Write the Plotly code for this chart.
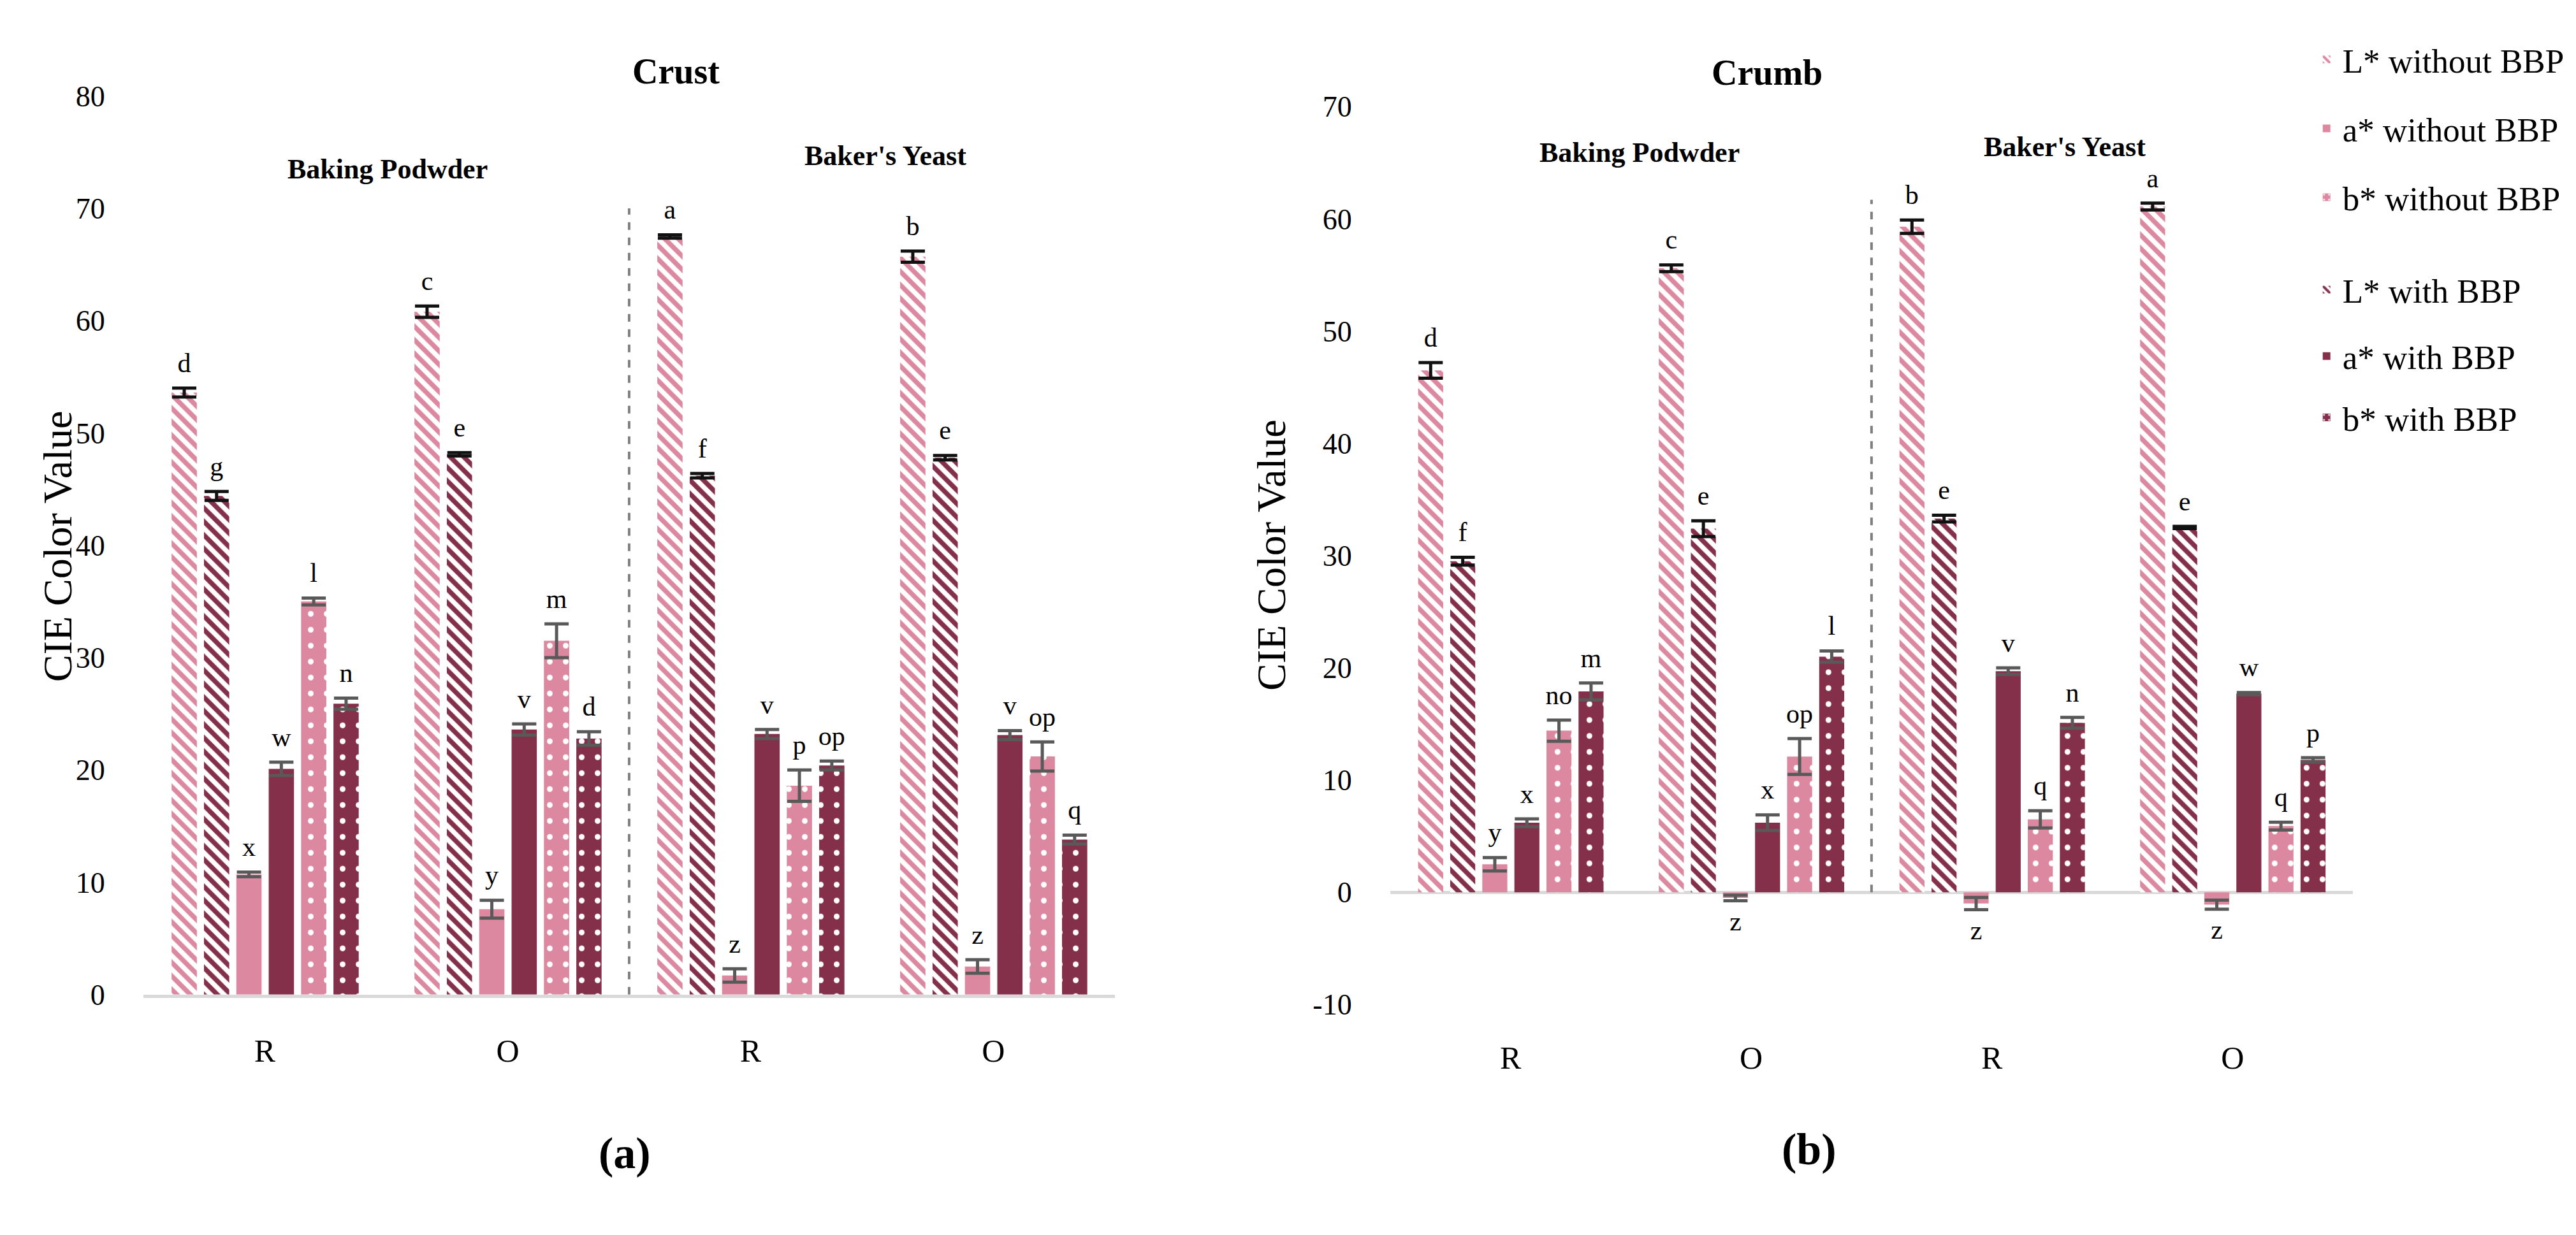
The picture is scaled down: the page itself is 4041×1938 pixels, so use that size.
import plotly.graph_objects as go

# categories (R / O for each leavening agent)
positions = [0, 1, 2, 3]
cat_labels = ["R", "O", "R", "O"]
groups = ["Baking Podwder", "Baker's Yeast"]

# bar order inside each category
series = ["L* without BBP", "L* with BBP", "a* without BBP",
          "a* with BBP", "b* without BBP", "b* with BBP"]

# Crust values, errors, letters
crust_vals = [
    [53.6, 60.8, 67.5, 65.7],
    [44.4, 48.1, 46.2, 47.8],
    [10.7, 7.6, 1.7, 2.5],
    [20.1, 23.6, 23.2, 23.1],
    [35.0, 31.5, 18.6, 21.2],
    [25.9, 22.8, 20.4, 13.8],
]
crust_err = [
    [0.4, 0.5, 0.15, 0.5],
    [0.4, 0.15, 0.2, 0.2],
    [0.2, 0.8, 0.6, 0.6],
    [0.6, 0.5, 0.4, 0.4],
    [0.3, 1.5, 1.4, 1.3],
    [0.5, 0.6, 0.4, 0.4],
]
crust_letters = [
    ["d", "c", "a", "b"],
    ["g", "e", "f", "e"],
    ["x", "y", "z", "z"],
    ["w", "v", "v", "v"],
    ["l", "m", "p", "op"],
    ["n", "d", "op", "q"],
]

# Crumb values, errors, letters
crumb_vals = [
    [46.5, 55.6, 59.3, 61.1],
    [29.5, 32.4, 33.3, 32.5],
    [2.5, -0.5, -1.0, -1.1],
    [6.2, 6.2, 19.7, 17.7],
    [14.4, 12.1, 6.5, 5.9],
    [17.9, 21.0, 15.1, 11.8],
]
crumb_err = [
    [0.7, 0.3, 0.6, 0.3],
    [0.35, 0.7, 0.3, 0.1],
    [0.6, 0.25, 0.55, 0.4],
    [0.35, 0.7, 0.3, 0.1],
    [0.95, 1.6, 0.77, 0.35],
    [0.75, 0.5, 0.48, 0.2],
]
crumb_letters = [
    ["d", "c", "b", "a"],
    ["f", "e", "e", "e"],
    ["y", "z", "z", "z"],
    ["x", "x", "v", "w"],
    ["no", "op", "q", "q"],
    ["m", "l", "n", "p"],
]

crust_yticks = [0, 10, 20, 30, 40, 50, 60, 70, 80]
crumb_yticks = [-10, 0, 10, 20, 30, 40, 50, 60, 70]

PINK = "#DB88A0"
WINE = "#84304B"
FONT = "Liberation Serif"

# styling per series (same order as `series`)
styles = [
    dict(color=PINK, shape="\\", fg=PINK, bg="white", size=15, sol=0.5, err="#111111"),
    dict(color=WINE, shape="\\", fg=WINE, bg="white", size=15, sol=0.5, err="#111111"),
    dict(color=PINK, shape="", fg=PINK, bg=PINK, size=10, sol=0.5, err="#595959"),
    dict(color=WINE, shape="", fg=WINE, bg=WINE, size=10, sol=0.5, err="#595959"),
    dict(color=PINK, shape=".", fg="white", bg=PINK, size=25, sol=0.1, err="#595959"),
    dict(color=WINE, shape=".", fg="white", bg=WINE, size=25, sol=0.1, err="#595959"),
]
legend_keys = ["legend", "legend4", "legend2", "legend5", "legend3", "legend6"]

BAR_W = 0.104
STEP = 0.1333
START = -0.384

fig = go.Figure()


def add_panel(vals, errs, letters, xa, ya, show):
    for i, name in enumerate(series):
        st = styles[i]
        off = START + i * STEP
        fig.add_trace(go.Bar(
            x=positions, y=vals[i], name=name,
            offset=off, width=BAR_W,
            marker=dict(color=st["color"], line_width=0,
                        pattern=dict(shape=st["shape"], fgcolor=st["fg"], bgcolor=st["bg"],
                                     size=st["size"], solidity=st["sol"], fillmode="replace")),
            error_y=dict(type="data", array=errs[i], color=st["err"], thickness=5, width=19),
            xaxis=xa, yaxis=ya, showlegend=show, legend=legend_keys[i],
        ))
        ty = [v + e if v >= 0 else v - e for v, e in zip(vals[i], errs[i])]
        tp = ["top center" if v >= 0 else "bottom center" for v in vals[i]]
        fig.add_trace(go.Scatter(
            x=[p + off + BAR_W / 2 for p in positions], y=ty, text=letters[i],
            mode="markers+text", textposition=tp,
            marker=dict(size=22, opacity=0),
            textfont=dict(family=FONT, size=42, color="black"),
            xaxis=xa, yaxis=ya, showlegend=False, hoverinfo="skip",
        ))


add_panel(crust_vals, crust_err, crust_letters, "x", "y", False)
add_panel(crumb_vals, crumb_err, crumb_letters, "x2", "y2", True)

xcommon = dict(tickvals=positions, ticktext=cat_labels, range=[-0.5, 3.5],
               showgrid=False, zeroline=False, ticks="outside", ticklen=40,
               tickcolor="rgba(0,0,0,0)", tickfont=dict(family=FONT, size=50, color="black"))
ycommon = dict(showgrid=False, ticks="outside", ticklen=50, tickcolor="rgba(0,0,0,0)",
               tickfont=dict(family=FONT, size=46, color="black"))

fig.update_layout(
    width=4041, height=1938,
    margin=dict(l=0, r=0, t=0, b=0),
    paper_bgcolor="white", plot_bgcolor="white",
    font=dict(family=FONT, color="black"),
    barmode="overlay",
    xaxis=dict(domain=[0.0537, 0.4308], showline=True, linecolor="#D9D9D9", linewidth=5,
               **xcommon),
    yaxis=dict(domain=[0.1904, 0.9376], range=[0, 80], tickvals=crust_yticks,
               ticktext=[str(t) for t in crust_yticks], zeroline=False, **ycommon),
    xaxis2=dict(domain=[0.5377, 0.9114], anchor="y2", showline=False, **xcommon),
    yaxis2=dict(domain=[0.1821, 0.9288], anchor="x2", range=[-10, 70], tickvals=crumb_yticks,
                ticktext=[str(t) for t in crumb_yticks], zeroline=True,
                zerolinecolor="#D9D9D9", zerolinewidth=5, **ycommon),
)

legend_y = [0.968, 0.9107, 0.8535, 0.7766, 0.7214, 0.6703]
for k, key in enumerate(["legend", "legend2", "legend3", "legend4", "legend5", "legend6"]):
    fig.update_layout({key: dict(x=0.895, y=legend_y[k], xanchor="left", yanchor="middle",
                                 bgcolor="rgba(0,0,0,0)", itemwidth=40,
                                 font=dict(family=FONT, size=53, color="black"))})

# separators between leavening agents
fig.add_shape(type="line", xref="x", yref="y", x0=1.5, x1=1.5, y0=0, y1=70,
              line=dict(color="#7F7F7F", width=4, dash="dash"))
fig.add_shape(type="line", xref="x2", yref="y2", x0=1.5, x1=1.5, y0=0, y1=61.7,
              line=dict(color="#7F7F7F", width=4, dash="dash"))

# group labels
for xr, yr, gx, gy in [("x", "y", [0.505, 2.555], [73.5, 74.7]),
                       ("x2", "y2", [0.536, 2.303], [65.9, 66.4])]:
    for g, xx, yy in zip(groups, gx, gy):
        fig.add_annotation(x=xx, y=yy, xref=xr, yref=yr, text="<b>" + g + "</b>",
                           showarrow=False, font=dict(family=FONT, size=44))

# panel titles and letters
fig.add_annotation(x=0.243, y=0.9757, xref="paper", yref="paper", text="<b>Crust</b>",
                   showarrow=False, font=dict(family=FONT, size=56))
fig.add_annotation(x=0.706, y=0.9747, xref="paper", yref="paper", text="<b>Crumb</b>",
                   showarrow=False, font=dict(family=FONT, size=56))
fig.add_annotation(x=0.2299, y=0.0372, xref="paper", yref="paper", text="<b>(a)</b>",
                   showarrow=False, font=dict(family=FONT, size=70))
fig.add_annotation(x=0.7115, y=0.0402, xref="paper", yref="paper", text="<b>(b)</b>",
                   showarrow=False, font=dict(family=FONT, size=70))

# y axis titles
fig.add_annotation(x=0.0111, y=0.563, xref="paper", yref="paper", text="CIE Color Value",
                   textangle=-90, showarrow=False, font=dict(family=FONT, size=64))
fig.add_annotation(x=0.4917, y=0.556, xref="paper", yref="paper", text="CIE Color Value",
                   textangle=-90, showarrow=False, font=dict(family=FONT, size=64))

fig.write_html("out.html")
